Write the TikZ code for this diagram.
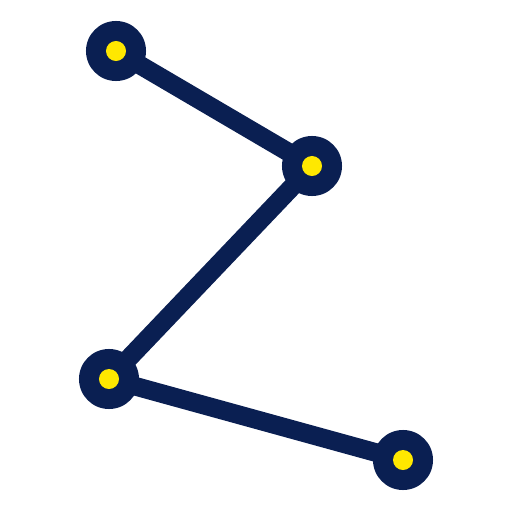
\documentclass[tikz,border=0pt]{standalone}
\usepackage{tikz}
\usepackage{xcolor}
\usetikzlibrary{backgrounds}
\definecolor{navy}{HTML}{0A1F52}
\definecolor{dotyellow}{HTML}{FFE800}

\begin{document}
\begin{tikzpicture}[x=0.01cm, y=-0.01cm,
	vertex/.style={circle, fill=navy, minimum size=0.6cm, inner sep=0pt},
	dot/.style={circle, fill=dotyellow, minimum size=0.2cm, inner sep=0pt},
	edge/.style={navy, line width=5.3pt}]
	\useasboundingbox (0,0) rectangle (512,512);
	\node[vertex] (va) at (116,51) {};
	\node[vertex] (vb) at (312,166) {};
	\node[vertex] (vc) at (109,379) {};
	\node[vertex] (vd) at (403,460) {};
	\node[dot] at (va) {};
	\node[dot] at (vb) {};
	\node[dot] at (vc) {};
	\node[dot] at (vd) {};
	\begin{pgfonlayer}{background}
	\draw[edge] (va.center) -- (vb.center) -- (vc.center) -- (vd.center);
	\end{pgfonlayer}
\end{tikzpicture}
\end{document}
